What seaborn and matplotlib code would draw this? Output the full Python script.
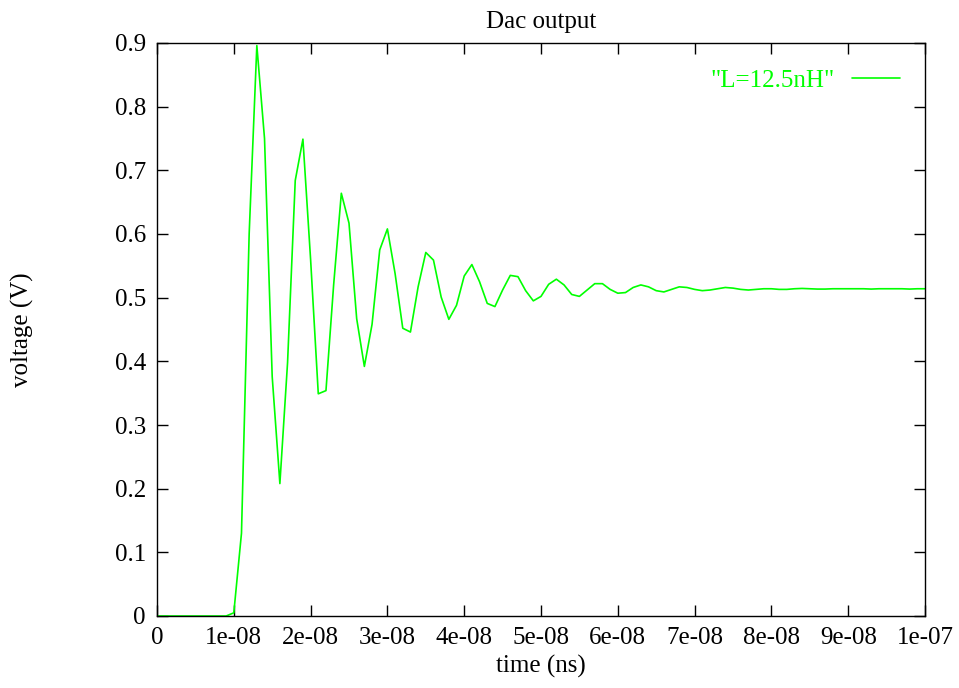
import numpy as np
import pandas as pd
import matplotlib
matplotlib.use("Agg")
import matplotlib.pyplot as plt
import seaborn as sns

# time samples (units of 1e-9 s) and voltage values
t_ns = list(range(0, 101))
voltage = [
    0.0, 0.0, 0.0, 0.0, 0.0, 0.0, 0.0, 0.0, 0.0, 0.0,          # 0-9
    0.005, 0.13, 0.60, 0.896, 0.75, 0.376, 0.208, 0.398, 0.684, 0.749,  # 10-19
    0.56, 0.349, 0.354, 0.52, 0.664, 0.617, 0.467, 0.392, 0.458, 0.575,  # 20-29
    0.608, 0.538, 0.452, 0.446, 0.517, 0.571, 0.559, 0.501, 0.466, 0.488,  # 30-39
    0.534, 0.552, 0.525, 0.491, 0.486, 0.512, 0.535, 0.533, 0.511, 0.495,  # 40-49
    0.502, 0.521, 0.529, 0.520, 0.505, 0.502, 0.512, 0.522, 0.522, 0.513,  # 50-59
    0.507, 0.508, 0.516, 0.520, 0.517, 0.511, 0.509, 0.513, 0.517, 0.516,  # 60-69
    0.513, 0.511, 0.512, 0.514, 0.516, 0.515, 0.513, 0.512, 0.513, 0.514,  # 70-79
    0.514, 0.513, 0.513, 0.514, 0.5145, 0.514, 0.5135, 0.5135, 0.514, 0.514,  # 80-89
    0.514, 0.514, 0.514, 0.5135, 0.514, 0.514, 0.514, 0.514, 0.5135, 0.514,  # 90-99
    0.514,  # 100
]
x_ticks = [0, 1e-08, 2e-08, 3e-08, 4e-08, 5e-08, 6e-08, 7e-08, 8e-08, 9e-08, 1e-07]
x_tick_labels = ["0", "1e-08", "2e-08", "3e-08", "4e-08", "5e-08",
                 "6e-08", "7e-08", "8e-08", "9e-08", "1e-07"]
y_ticks = [0, 0.1, 0.2, 0.3, 0.4, 0.5, 0.6, 0.7, 0.8, 0.9]
y_tick_labels = ["0", "0.1", "0.2", "0.3", "0.4", "0.5", "0.6", "0.7", "0.8", "0.9"]
series_label = '"L=12.5nH"'

df = pd.DataFrame({"time": [v * 1e-9 for v in t_ns], "voltage": voltage})

sns.set_style("ticks")
plt.rcParams["font.family"] = ["Liberation Serif", "DejaVu Serif"]
plt.rcParams["mathtext.fontset"] = "stix"
plt.rcParams["text.color"] = "black"
plt.rcParams["axes.labelcolor"] = "black"

fig = plt.figure(figsize=(9.59, 6.88), dpi=100)
ax = fig.add_axes([157 / 959, 1 - 616 / 688, (925 - 157) / 959, (616 - 43) / 688])

green = "#00ff00"
sns.lineplot(data=df, x="time", y="voltage", ax=ax, color=green, linewidth=1.2,
             label=series_label)

ax.set_xlim(0, 1e-07)
ax.set_ylim(0, 0.9)
ax.set_xticks(x_ticks)
ax.set_xticklabels(x_tick_labels)
ax.set_yticks(y_ticks)
ax.set_yticklabels(y_tick_labels)
ax.tick_params(direction="in", length=8, width=1, top=True, right=True,
               labelsize=18, colors="black", pad=8)
ax.minorticks_off()
for s in ax.spines.values():
    s.set_visible(True)
    s.set_linewidth(1.0)
    s.set_color("black")

ax.set_title("Dac output", fontsize=18, pad=11, color="black")
ax.set_xlabel("time (ns)", fontsize=18, labelpad=4, color="black")
ax.set_ylabel("voltage (V)", fontsize=18, labelpad=58, color="black")

leg = ax.legend(loc="upper right", frameon=False, markerfirst=False,
                labelcolor=green, fontsize=18, handlelength=1.9,
                handletextpad=0.7, borderaxespad=0.3,
                bbox_to_anchor=(0.99, 0.985))

fig.savefig("out.png", dpi=100)
